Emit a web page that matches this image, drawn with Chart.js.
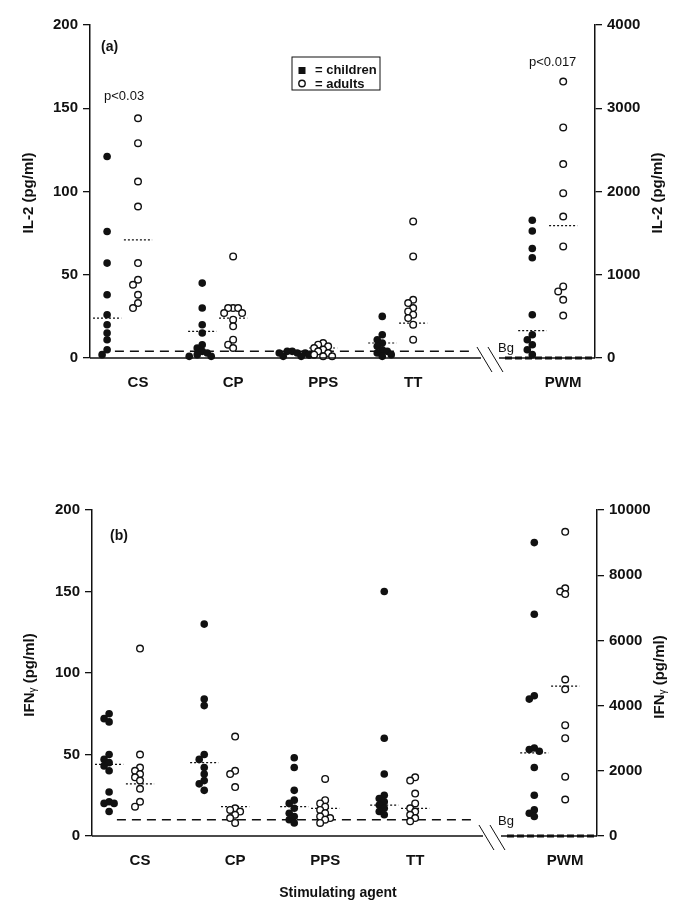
<!DOCTYPE html>
<html lang="en">
<head>
<meta charset="UTF-8">
<title>IL-2 and IFN-gamma by stimulating agent</title>
<script src="https://cdn.jsdelivr.net/npm/chart.js"></script>
<style>
  body { margin: 0; background: #fff; }
  .wrap { position: relative; width: 685px; height: 918px; }
  #chartA { position: absolute; left: 0; top: 0; }
  #chartB { position: absolute; left: 0; top: 470px; }
</style>
</head>
<body>
<div class="wrap">
  <canvas id="chartA" width="685" height="420"></canvas>
  <canvas id="chartB" width="685" height="448"></canvas>
</div>
<script>
// categories (PWM is read on the right axis)
const categories = ['CS', 'CP', 'PPS', 'TT', 'PWM'];

// (a) IL-2, pg/ml  -- last group (PWM) on right axis
const il2Children = [
  [121, 76, 57, 38, 26, 20, 15, 11, 5, 2],
  [45, 30, 20, 15, 8, 6, 4, 3, 2, 1, 1],
  [4, 4, 3, 3, 3, 2, 2, 2, 1, 1],
  [25, 14, 11, 9, 7, 5, 4, 3, 2, 1],
  [1655, 1525, 1315, 1205, 520, 280, 220, 160, 100, 40]
];
const il2Adults = [
  [144, 129, 106, 91, 57, 47, 44, 38, 33, 30],
  [61, 30, 30, 30, 27, 27, 23, 19, 11, 8, 6],
  [9, 8, 7, 6, 5, 4, 3, 2, 1, 1],
  [82, 61, 35, 33, 30, 28, 26, 24, 20, 11],
  [3320, 2770, 2330, 1980, 1700, 1340, 860, 800, 700, 510]
];
const il2ChildMedian = [24, 16, 3, 9, 330];
const il2AdultMedian = [71, 24, 6, 21, 1590];
const il2Bg = 4;

// (b) IFN-gamma, pg/ml
const ifnChildren = [
  [75, 72, 70, 50, 47, 45, 43, 40, 27, 21, 20, 20, 15],
  [130, 84, 80, 50, 47, 42, 38, 34, 32, 28],
  [48, 42, 28, 22, 20, 17, 14, 12, 10, 8],
  [150, 60, 38, 25, 23, 21, 19, 17, 15, 13],
  [9000, 6800, 4300, 4200, 2700, 2650, 2600, 2100, 1250, 800, 700, 600]
];
const ifnAdults = [
  [115, 50, 42, 40, 38, 36, 34, 29, 21, 18],
  [61, 40, 38, 30, 17, 16, 15, 13, 11, 8],
  [35, 22, 20, 18, 16, 14, 12, 11, 10, 8],
  [36, 34, 26, 20, 17, 15, 13, 11, 9],
  [9330, 7600, 7500, 7420, 4800, 4500, 3400, 3000, 1820, 1120]
];
const ifnChildMedian = [44, 45, 18, 19, 2550];
const ifnAdultMedian = [32, 18, 17, 17, 4600];
const ifnBg = 10;

// layout of the x axis (arbitrary units, 1 unit ~ 30px)
const catPos = [1.6, 4.77, 7.77, 10.77, 15.77];
const childShift = 1.03;
const X_MAX = 16.83;
const BREAK_AT = 12.93;
const FONT = '"Liberation Sans", Arial, sans-serif';

// spread overlapping points sideways a little (offsets in px)
function spread(values, pxY) {
  const placed = [];
  const offs = [0, -5, 5, -9, 9, -13, 13, -17, 17];
  return values.map(v => {
    const yp = v * pxY;
    let dx = offs[offs.length - 1];
    for (const o of offs) {
      if (placed.every(p => Math.hypot(p.x - o, p.y - yp) >= 5)) { dx = o; break; }
    }
    placed.push({ x: dx, y: yp });
    return dx;
  });
}

function pointsFor(vals, x, pxX, pxY) {
  const offs = spread(vals, pxY);
  return vals.map((v, i) => ({ x: x + offs[i] / pxX, y: v }));
}

function medianSegs(meds, xs, idx) {
  const d = [];
  idx.forEach(i => {
    d.push({ x: xs[i] - 0.47, y: meds[i] }, { x: xs[i] + 0.47, y: meds[i] }, { x: xs[i], y: null });
  });
  return d;
}

function drawVertical(ctx, x, y, parts) {
  ctx.save();
  ctx.translate(x, y);
  ctx.rotate(-Math.PI / 2);
  let total = 0;
  parts.forEach(p => { ctx.font = p.font; total += ctx.measureText(p.t).width; });
  let cx = -total / 2;
  ctx.textBaseline = 'middle';
  ctx.textAlign = 'left';
  parts.forEach(p => {
    ctx.font = p.font;
    ctx.fillText(p.t, cx, p.dy || 0);
    cx += ctx.measureText(p.t).width;
  });
  ctx.restore();
}

const decor = {
  id: 'decor',
  afterDraw(chart, args, o) {
    const { ctx, chartArea: a } = chart;
    const x = chart.scales.x;
    const b = a.bottom;
    const s = x.getPixelForValue(BREAK_AT);
    ctx.save();
    ctx.strokeStyle = '#111';
    ctx.fillStyle = '#111';
    ctx.lineWidth = 1.5;
    ctx.beginPath();
    ctx.moveTo(a.left, b); ctx.lineTo(s + 3, b);
    ctx.moveTo(s + 21, b); ctx.lineTo(a.right, b);
    ctx.stroke();
    ctx.lineWidth = 1;
    ctx.beginPath();
    ctx.moveTo(s - 1, b - 11); ctx.lineTo(s + 14, b + 14);
    ctx.moveTo(s + 10, b - 11); ctx.lineTo(s + 25, b + 14);
    ctx.stroke();

    // free texts
    ctx.textBaseline = 'middle';
    o.texts.forEach(t => {
      ctx.font = t.font;
      ctx.textAlign = t.align || 'left';
      ctx.fillText(t.text, t.x, t.y);
    });

    // axis titles
    o.titles.forEach(t => drawVertical(ctx, t.x, t.y, t.parts));

    // legend box
    if (o.legend) {
      const L = o.legend;
      ctx.lineWidth = 1;
      ctx.strokeRect(L.x, L.y, 88, 33);
      ctx.fillRect(L.x + 6.5, L.y + 10, 7, 7);
      ctx.beginPath();
      ctx.arc(L.x + 10, L.y + 26.5, 3.2, 0, Math.PI * 2);
      ctx.fillStyle = '#fff';
      ctx.fill();
      ctx.lineWidth = 1.4;
      ctx.stroke();
      ctx.fillStyle = '#111';
      ctx.font = 'bold 13px ' + FONT;
      ctx.textAlign = 'left';
      ctx.fillText('= children', L.x + 23, L.y + 13.5);
      ctx.fillText('= adults', L.x + 23, L.y + 27);
    }
    ctx.restore();
  }
};

function makePanel(p) {
  const plotH = p.height - p.top - p.xH;
  const pxX = (685 - p.leftW - p.rightW) / X_MAX;
  const pxL = plotH / p.leftMax;
  const pxR = plotH / p.rightMax;
  const left = [0, 1, 2, 3];

  const childLeft = [], adultLeft = [];
  left.forEach(i => {
    childLeft.push(...pointsFor(p.children[i], catPos[i] - childShift, pxX, pxL));
    adultLeft.push(...pointsFor(p.adults[i], catPos[i], pxX, pxL));
  });
  const childPwm = pointsFor(p.children[4], catPos[4] - childShift, pxX, pxR);
  const adultPwm = pointsFor(p.adults[4], catPos[4], pxX, pxR);

  const xsChild = catPos.map(v => v - childShift);
  const medLeft = medianSegs(p.childMed, xsChild, left).concat(medianSegs(p.adultMed, catPos, left));
  const medRight = medianSegs(p.childMed, xsChild, [4]).concat(medianSegs(p.adultMed, catPos, [4]));

  const dot = { pointStyle: 'circle', pointRadius: 3.8, pointBackgroundColor: '#111', pointBorderColor: '#111', pointBorderWidth: 0, clip: false };
  const ring = { pointStyle: 'circle', pointRadius: 3.3, pointBackgroundColor: '#fff', pointBorderColor: '#111', pointBorderWidth: 1.4, clip: false };
  const seg = { showLine: true, pointRadius: 0, borderColor: '#111', borderWidth: 1.2, borderDash: [2, 2], clip: false };
  const tickFont = { family: FONT, size: 15, weight: 'bold' };

  return new Chart(document.getElementById(p.canvas), {
    type: 'scatter',
    data: {
      datasets: [
        { data: [{ x: 0.83, y: p.bg }, { x: 12.77, y: p.bg }], showLine: true, pointRadius: 0, borderColor: '#111', borderWidth: 1.5, borderDash: [9, 6], order: 5 },
        { data: [{ x: 13.83, y: 0 }, { x: 16.73, y: 0 }], yAxisID: 'y2', showLine: true, pointRadius: 0, borderColor: '#111', borderWidth: 3, borderDash: [7, 3], clip: false, order: 5 },
        { data: medLeft, ...seg, order: 4 },
        { data: medRight, yAxisID: 'y2', ...seg, order: 4 },
        { data: childLeft, ...dot, order: 2 },
        { data: adultLeft, ...ring, order: 1 },
        { data: childPwm, yAxisID: 'y2', ...dot, order: 2 },
        { data: adultPwm, yAxisID: 'y2', ...ring, order: 1 }
      ]
    },
    options: {
      responsive: false,
      animation: false,
      layout: { padding: { top: p.top, left: 0, right: 0, bottom: 0 } },
      plugins: {
        legend: { display: false },
        tooltip: { enabled: false },
        decor: { texts: p.texts, titles: p.titles, legend: p.legend }
      },
      scales: {
        x: {
          type: 'linear', min: 0, max: X_MAX,
          afterFit: s => { s.height = p.xH; },
          afterBuildTicks: s => { s.ticks = catPos.map(v => ({ value: v })); },
          ticks: {
            autoSkip: false, maxRotation: 0, padding: 8, color: '#111',
            font: tickFont,
            callback: (v, i) => categories[i]
          },
          grid: { display: false },
          border: { display: false }
        },
        y: {
          position: 'left', min: 0, max: p.leftMax,
          afterFit: s => { s.width = p.leftW; },
          ticks: { stepSize: p.leftStep, padding: 5, color: '#111', font: tickFont, callback: v => String(v) },
          grid: { drawOnChartArea: false, drawTicks: true, tickLength: 7, color: '#111', lineWidth: 1.3 },
          border: { display: true, color: '#111', width: 1.5 }
        },
        y2: {
          position: 'right', min: 0, max: p.rightMax,
          afterFit: s => { s.width = p.rightW; },
          ticks: { stepSize: p.rightStep, padding: 5, color: '#111', font: tickFont, callback: v => String(v) },
          grid: { drawOnChartArea: false, drawTicks: true, tickLength: 7, color: '#111', lineWidth: 1.3 },
          border: { display: true, color: '#111', width: 1.5 }
        }
      }
    },
    plugins: [decor]
  });
}

const bold15 = 'bold 15px ' + FONT;
const small = '13px ' + FONT;

makePanel({
  canvas: 'chartA', height: 420, top: 25, leftW: 90, rightW: 90, xH: 62,
  children: il2Children, adults: il2Adults, childMed: il2ChildMedian, adultMed: il2AdultMedian, bg: il2Bg,
  leftMax: 200, leftStep: 50, rightMax: 4000, rightStep: 1000,
  texts: [
    { text: '(a)', x: 101, y: 47, font: 'bold 14px ' + FONT },
    { text: 'p<0.03', x: 104, y: 96, font: small },
    { text: 'p<0.017', x: 529, y: 62, font: small },
    { text: 'Bg', x: 498, y: 348, font: small }
  ],
  titles: [
    { x: 29, y: 193, parts: [{ t: 'IL-2 (pg/ml)', font: bold15 }] },
    { x: 658, y: 193, parts: [{ t: 'IL-2 (pg/ml)', font: bold15 }] }
  ],
  legend: { x: 292, y: 57 }
});

const ifnTitle = [
  { t: 'IFN', font: bold15 },
  { t: 'γ', font: '10px ' + FONT, dy: 3 },
  { t: ' (pg/ml)', font: bold15 }
];

makePanel({
  canvas: 'chartB', height: 448, top: 40, leftW: 92, rightW: 88, xH: 82,
  children: ifnChildren, adults: ifnAdults, childMed: ifnChildMedian, adultMed: ifnAdultMedian, bg: ifnBg,
  leftMax: 200, leftStep: 50, rightMax: 10000, rightStep: 2000,
  texts: [
    { text: '(b)', x: 110, y: 66, font: 'bold 14px ' + FONT },
    { text: 'Bg', x: 498, y: 351, font: small },
    { text: 'Stimulating agent', x: 338, y: 423, font: 'bold 14px ' + FONT, align: 'center' }
  ],
  titles: [
    { x: 30, y: 205, parts: ifnTitle },
    { x: 660, y: 207, parts: ifnTitle }
  ],
  legend: null
});
</script>
</body>
</html>
